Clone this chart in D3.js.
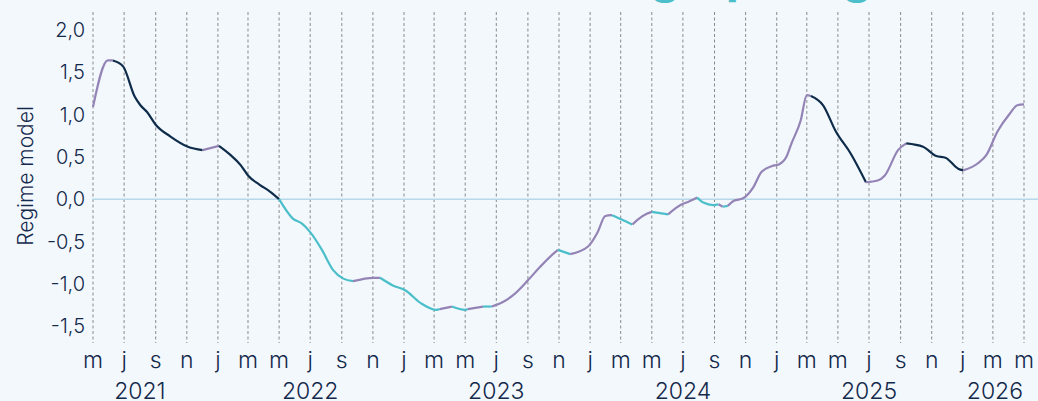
<!DOCTYPE html>
<html>
<head>
<meta charset="utf-8">
<script src="https://cdn.jsdelivr.net/npm/d3@7"></script>
<style>
  body { margin: 0; background: #f3f8fd; }
  svg { display: block; }
  text { font-family: Inter, "Noto Sans", sans-serif; fill: #13294b; font-weight: 300; }
</style>
</head>
<body>
<div id="regime_chart"></div>
<script>
// data
var dates = ["2021-05-01","2021-05-30","2021-06-09","2021-06-29","2021-07-22","2021-08-02","2021-08-15","2021-09-01","2021-09-30","2021-11-03",
  "2021-12-02","2022-01-03","2022-01-26","2022-02-15","2022-03-01","2022-03-24","2022-04-13","2022-05-01","2022-05-28","2022-06-15",
  "2022-07-01","2022-07-24","2022-08-15","2022-09-04","2022-09-23","2022-11-02","2022-11-15","2022-12-10","2023-01-04","2023-02-03",
  "2023-03-06","2023-03-12","2023-04-05","2023-05-01","2023-05-06","2023-06-05","2023-06-22","2023-07-13","2023-08-06","2023-09-01",
  "2023-09-25","2023-10-20","2023-10-30","2023-11-23","2023-12-28","2024-01-15","2024-01-31","2024-02-13","2024-03-03","2024-03-24",
  "2024-04-04","2024-04-22","2024-05-01","2024-06-02","2024-06-29","2024-07-08","2024-07-29","2024-08-10","2024-08-30","2024-09-09",
  "2024-09-17","2024-09-27","2024-10-09","2024-10-27","2024-11-16","2024-12-02","2024-12-22","2025-01-05","2025-01-20","2025-01-30",
  "2025-02-17","2025-03-01","2025-03-09","2025-04-02","2025-04-27","2025-05-26","2025-06-25","2025-07-18","2025-08-01","2025-08-27",
  "2025-09-12","2025-10-15","2025-11-10","2025-11-28","2025-12-23","2026-01-02","2026-02-01","2026-02-16","2026-03-10","2026-04-03",
  "2026-04-18","2026-05-01"];
var values = [1.09,1.64,1.64,1.57,1.21,1.11,1.03,0.88,0.74,0.62,
  0.58,0.63,0.52,0.40,0.28,0.17,0.09,0.00,-0.23,-0.29,
  -0.39,-0.60,-0.84,-0.94,-0.97,-0.93,-0.93,-1.02,-1.08,-1.23,
  -1.31,-1.30,-1.27,-1.31,-1.30,-1.27,-1.27,-1.22,-1.12,-0.96,
  -0.80,-0.65,-0.60,-0.65,-0.56,-0.40,-0.20,-0.19,-0.24,-0.30,
  -0.24,-0.17,-0.15,-0.18,-0.06,-0.04,0.02,-0.04,-0.07,-0.06,
  -0.09,-0.08,-0.02,0.01,0.14,0.32,0.39,0.41,0.50,0.66,
  0.93,1.23,1.22,1.11,0.80,0.54,0.20,0.22,0.28,0.58,
  0.66,0.62,0.51,0.49,0.36,0.34,0.43,0.52,0.80,1.01,
  1.11,1.12];
// regime of the stretch that starts at each point: d = dark, p = purple, t = teal
var regimes = ["p","p","d","d","d","d","d","d","d","d",
  "p","d","d","d","d","d","d","t","t","t",
  "t","t","t","t","p","p","t","t","t","t",
  "t","p","t","t","p","t","p","p","p","p",
  "p","p","t","p","p","p","p","t","t","p",
  "p","p","t","p","p","p","t","t","t","p",
  "t","p","p","p","p","p","p","p","p","p",
  "p","p","d","d","d","d","p","p","p","p",
  "d","d","d","d","d","p","p","p","p","p",
  "p","p"];
var regimeColors = { d: "#0e2c4a", p: "#9484b6", t: "#4bbfc9" };

var yTicks = [2.0, 1.5, 1.0, 0.5, 0.0, -0.5, -1.0, -1.5];
var monthLetters = ["j","f","m","a","m","j","j","a","s","o","n","d"];
var yearLabels = ["2021","2022","2023","2024","2025","2026"];
var yearLabelDates = ["2021-08-01","2022-07-01","2023-07-01","2024-07-01","2025-07-01","2026-03-05"];

var width = 1038, height = 401;
var parse = d3.timeParse("%Y-%m-%d");

var svg = d3.select("#regime_chart")
  .append("svg")
  .attr("width", width)
  .attr("height", height);

var x = d3.scaleTime()
  .domain([parse("2021-05-01"), parse("2026-05-01")])
  .range([93, 1024]);

var y = d3.scaleLinear()
  .domain([-1.5, 2.0])
  .range([326, 30]);

// cut-off title above the frame (only descenders show)
var titleBits = [["g", 665], ["p", 741], ["g", 857]];
svg.selectAll(".title-bit")
  .data(titleBits)
  .enter()
  .append("text")
  .attr("x", function (d) { return d[1]; })
  .attr("y", -7.5)
  .attr("text-anchor", "middle")
  .style("font-size", "48px")
  .style("font-weight", "bold")
  .style("fill", "#4bbfc9")
  .text(function (d) { return d[0]; });

// dashed month grid, every two months
var gridMonths = d3.timeMonth.every(2).range(parse("2021-05-01"), parse("2026-05-02"));
svg.append("g")
  .selectAll("line")
  .data(gridMonths)
  .enter()
  .append("line")
  .attr("x1", function (d) { return x(d); })
  .attr("x2", function (d) { return x(d); })
  .attr("y1", 12)
  .attr("y2", 343)
  .style("stroke", "#8a8a8a")
  .style("stroke-width", 1)
  .style("stroke-dasharray", "3,2.5");

// zero line
svg.append("line")
  .attr("x1", 92)
  .attr("x2", width)
  .attr("y1", y(0))
  .attr("y2", y(0))
  .style("stroke", "#b6d8e8")
  .style("stroke-width", 1.5);

// y axis labels
svg.append("g")
  .selectAll("text")
  .data(yTicks)
  .enter()
  .append("text")
  .attr("x", 85)
  .attr("y", function (d) { return y(d); })
  .attr("dy", "0.36em")
  .attr("text-anchor", "end")
  .style("font-size", "20px")
  .text(function (d) { return d3.format(".1f")(d).replace(".", ",").replace("\u2212", "-"); });

svg.append("text")
  .attr("transform", "translate(33,176) rotate(-90)")
  .attr("text-anchor", "middle")
  .style("font-size", "21px")
  .text("Regime model");

// month letters and years
svg.append("g")
  .selectAll("text")
  .data(gridMonths)
  .enter()
  .append("text")
  .attr("x", function (d) { return x(d); })
  .attr("y", 368)
  .attr("text-anchor", "middle")
  .style("font-size", "23px")
  .text(function (d) { return monthLetters[d.getMonth()]; });

svg.append("g")
  .selectAll("text")
  .data(yearLabels)
  .enter()
  .append("text")
  .attr("x", function (d, i) { return x(parse(yearLabelDates[i])); })
  .attr("y", 399)
  .attr("text-anchor", "middle")
  .style("font-size", "23px")
  .text(function (d) { return d; });

// split the series into coloured stretches
var pts = dates.map(function (d, i) { return { date: parse(d), value: values[i], r: regimes[i] }; });
var segs = [];
var cur = { r: pts[0].r, pts: [pts[0]] };
for (let i = 1; i < pts.length; i++) {
  cur.pts.push(pts[i]);
  if (pts[i].r !== cur.r) {
    segs.push(cur);
    cur = { r: pts[i].r, pts: [pts[i]] };
  }
}
if (cur.pts.length > 1) segs.push(cur);

var line = d3.line()
  .x(function (d) { return x(d.date); })
  .y(function (d) { return y(d.value); })
  .curve(d3.curveMonotoneX);

svg.append("g")
  .selectAll("path")
  .data(segs)
  .enter()
  .append("path")
  .attr("d", function (d) { return line(d.pts); })
  .style("fill", "none")
  .style("stroke", function (d) { return regimeColors[d.r]; })
  .style("stroke-width", 2.2)
  .style("stroke-linejoin", "round");
</script>
</body>
</html>
